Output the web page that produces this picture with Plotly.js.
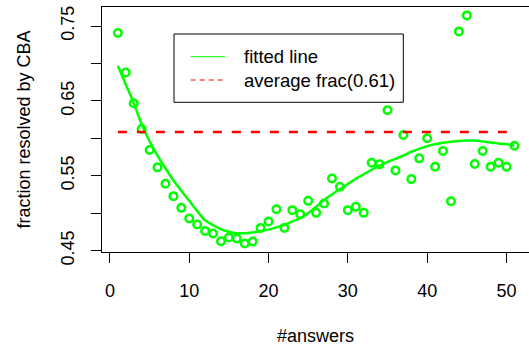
<!DOCTYPE html>
<html><head><meta charset="utf-8">
<script src="https://cdn.plot.ly/plotly-3.0.1.min.js"></script>
<style>html,body{margin:0;padding:0;background:#fff}</style>
</head><body><div id="chart" style="width:529px;height:346px"></div>
<script>
const answers = [1,2,3,4,5,6,7,8,9,10,11,12,13,14,15,16,17,18,19,20,21,22,23,24,25,26,27,28,29,30,31,32,33,34,35,36,37,38,39,40,41,42,43,44,45,46,47,48,49,50,51];
const fracResolved = [0.7406,0.6879,0.6469,0.6125,0.5843,0.5612,0.5392,0.5227,0.5071,0.4929,
  0.4848,0.4763,0.4728,0.4625,0.4674,0.4661,0.4594,0.4621,0.4803,0.4889,
  0.5053,0.4803,0.5040,0.4986,0.5164,0.5004,0.5130,0.5464,0.5352,0.5040,
  0.5084,0.5004,0.5673,0.5652,0.6375,0.5571,0.6044,0.5455,0.5732,0.6000,
  0.5620,0.5830,0.5160,0.7428,0.7642,0.5656,0.5830,0.5620,0.5673,0.5620,0.5900];
const fittedLine = [0.697,0.672,0.647,0.619,0.596,0.577,0.560,0.544,0.530,0.5165,
  0.503,0.4905,0.484,0.4785,0.4752,0.4733,0.4732,0.4742,0.4758,0.478,
  0.481,0.4845,0.489,0.4935,0.500,0.5085,0.5175,0.525,0.532,0.539,
  0.546,0.552,0.558,0.5635,0.5685,0.5725,0.577,0.582,0.586,0.5895,
  0.592,0.594,0.5955,0.5965,0.597,0.597,0.5958,0.5945,0.5932,0.592,0.590];
const averageFrac = 0.6085;
const averageX = [1, 51];
const legendLabels = ["fitted line", "average frac(0.61)"];
const xTickVals = [0,10,20,30,40,50];
const yTickVals = [0.45,0.50,0.55,0.60,0.65,0.70,0.75];
const yTickText = ["0.45","","0.55","","0.65","","0.75"];

const FONT = "Liberation Sans, Arial, Helvetica, sans-serif";
const GREEN = "#00ff00", RED = "#ff0000";

const traces = [
  {x: answers, y: fracResolved, type: "scatter", mode: "markers", showlegend: false,
   marker: {symbol: "circle-open", size: 7.5, color: GREEN, line: {color: GREEN, width: 2.5}}},
  {x: answers, y: fittedLine, type: "scatter", mode: "lines", showlegend: false,
   line: {color: GREEN, width: 2.5, shape: "spline"}},
  {x: averageX, y: averageX.map(() => averageFrac), type: "scatter", mode: "lines", showlegend: false,
   line: {color: RED, width: 2.5, dash: "9px,10px"}}
];

const L = 102, T = 7, W = 427, H = 245;
const px = v => (v - L) / W, py = v => (T + H - v) / H;

const layout = {
  width: 529, height: 346,
  margin: {l: L, r: 0, t: T, b: 94},
  paper_bgcolor: "#fff", plot_bgcolor: "#fff",
  font: {family: FONT, size: 18, color: "#000"},
  showlegend: false,
  xaxis: {range: [-1, 52.84], tickvals: xTickVals, ticks: "outside", ticklen: 10, tickwidth: 1,
    tickcolor: "#000", showgrid: false, zeroline: false, showline: true, linecolor: "#000",
    linewidth: 1, mirror: true, ticklabelstandoff: 12, automargin: false,
    tickfont: {family: FONT, size: 18, color: "#000"},
    title: {text: "#answers", font: {family: FONT, size: 18, color: "#000"}, standoff: 29}},
  yaxis: {range: [0.4481, 0.7754], tickvals: yTickVals, ticktext: yTickText, tickangle: -90,
    ticks: "outside", ticklen: 10, tickwidth: 1, tickcolor: "#000", showgrid: false,
    zeroline: false, showline: true, linecolor: "#000", linewidth: 1, mirror: false,
    ticklabelstandoff: 10, automargin: false,
    tickfont: {family: FONT, size: 18, color: "#000"},
    title: {text: "fraction resolved by CBA", font: {family: FONT, size: 18, color: "#000"}, standoff: 22}},
  shapes: [
    {type: "rect", xref: "paper", yref: "paper", x0: px(174), x1: px(403.3), y0: py(102.3), y1: py(34),
     line: {color: "#000", width: 1}, fillcolor: "rgba(0,0,0,0)"},
    {type: "line", xref: "paper", yref: "paper", x0: px(190.7), x1: px(225), y0: py(56.7), y1: py(56.7),
     line: {color: GREEN, width: 1}},
    {type: "line", xref: "paper", yref: "paper", x0: px(190.7), x1: px(225), y0: py(80), y1: py(80),
     line: {color: RED, width: 1, dash: "5px,4px"}}
  ],
  annotations: [
    {xref: "paper", yref: "paper", x: px(241.7), y: py(56.7), xanchor: "left", yanchor: "middle",
     text: legendLabels[0], showarrow: false, font: {family: FONT, size: 18.5, color: "#000"}},
    {xref: "paper", yref: "paper", x: px(241.7), y: py(80), xanchor: "left", yanchor: "middle",
     text: legendLabels[1], showarrow: false, font: {family: FONT, size: 18.5, color: "#000"}}
  ]
};

Plotly.newPlot("chart", traces, layout, {displayModeBar: false, staticPlot: true});
</script></body></html>
